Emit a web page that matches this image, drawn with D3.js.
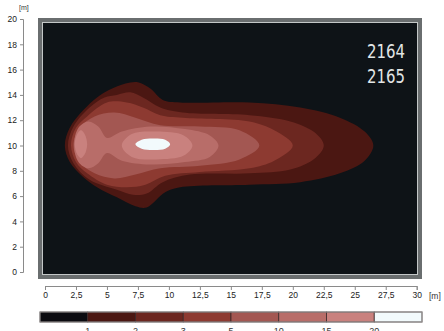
<!DOCTYPE html>
<html><head><meta charset="utf-8">
<script src="https://cdn.jsdelivr.net/npm/d3@7"></script>
<style>html,body{margin:0;padding:0;background:#fff}svg{display:block}</style>
</head><body>
<script>
// ---- data (metres) ----
const levels = [1, 2, 3, 5, 10, 15, 20];
const levelColors = ["#0b0b10", "#4b1712", "#6c2720", "#8d3a31", "#a35752", "#b86d69", "#c9817e", "#f2fafc"];
const xTicks = [0, 2.5, 5, 7.5, 10, 12.5, 15, 17.5, 20, 22.5, 25, 27.5, 30];
const yTicks = [0, 2, 4, 6, 8, 10, 12, 14, 16, 18, 20];
const yearLabels = ["2164", "2165"];

const contour1 = [[1.6,10.0],[2.0,11.4],[3.1,12.8],[4.2,13.8],[5.2,14.4],[6.5,14.9],[7.5,15.0],[8.5,14.5],[9.5,13.6],[10.9,13.4],[16.5,13.4],[20.6,13.0],[23.8,12.2],[25.8,11.1],[26.5,10.0],[25.8,8.8],[23.8,7.8],[20.6,7.1],[16.5,6.9],[10.9,6.7],[9.7,6.3],[8.2,5.1],[7.3,5.2],[5.8,5.9],[4.2,6.7],[3.1,7.5],[2.0,8.7]];
const contour2 = [[1.85,10.0],[2.3,11.5],[3.6,13.0],[4.8,13.8],[5.8,14.0],[6.9,14.2],[7.9,13.8],[9.3,13.0],[11.1,12.6],[16.5,12.4],[19.8,11.9],[21.8,11.0],[22.5,10.0],[21.8,9.0],[19.8,8.1],[16.5,7.8],[11.7,7.7],[9.5,7.1],[8.2,6.2],[7.1,6.1],[5.8,6.5],[3.6,7.3],[2.3,8.6]];
const contour3 = [[2.1,10.0],[2.5,11.4],[3.4,12.3],[5.0,13.4],[6.6,13.4],[7.9,13.0],[9.3,12.4],[11.1,12.2],[16.5,11.9],[18.5,11.2],[20.0,10.0],[18.5,8.8],[16.5,8.2],[12.5,7.9],[9.7,7.6],[8.1,6.9],[6.6,6.7],[5.0,6.9],[3.4,7.8],[2.5,8.7]];
const contour5 = [[2.3,10.0],[2.8,11.4],[4.0,12.3],[5.6,12.6],[7.3,12.2],[9.3,11.6],[12.5,11.5],[15.7,11.2],[17.3,10.0],[15.7,8.9],[12.5,8.4],[9.3,8.2],[7.3,7.7],[5.6,7.4],[4.0,7.8],[2.8,8.7]];
const contour10 = [[2.35,10.0],[2.7,11.4],[3.5,11.9],[4.3,11.5],[5.0,10.6],[6.2,11.1],[8.5,11.5],[11.3,11.3],[13.3,10.8],[14.0,10.0],[13.3,9.1],[11.3,8.7],[8.5,8.5],[6.2,8.8],[5.0,9.4],[4.3,8.6],[3.5,8.2],[2.7,8.7]];
const contour15a = [[2.4,10.1],[2.6,10.9],[2.9,11.2],[3.2,10.9],[3.4,10.1],[3.2,9.3],[2.9,9.0],[2.6,9.3]];
const contour15b = [[6.2,10.0],[7.0,10.9],[9.0,11.1],[11.2,10.8],[11.9,10.0],[11.2,9.2],[9.0,8.9],[7.0,9.1]];
const contour20 = [[7.3,10.1],[7.8,10.45],[8.7,10.55],[9.7,10.45],[10.1,10.1],[9.7,9.75],[8.7,9.65],[7.8,9.75]];
const contourShapes = [
  {level: 1, pts: contour1}, {level: 2, pts: contour2}, {level: 3, pts: contour3},
  {level: 5, pts: contour5}, {level: 10, pts: contour10},
  {level: 15, pts: contour15a}, {level: 15, pts: contour15b}, {level: 20, pts: contour20}
];

// ---- drawing ----
const W = 444, H = 331;
const svg = d3.select("body").append("svg").attr("width", W).attr("height", H)
  .style("font-family", "'Liberation Sans', Arial, sans-serif");

const x = d3.scaleLinear().domain([0, 30]).range([45, 416.7]);
const y = d3.scaleLinear().domain([0, 20]).range([272, 19]);
const colorOf = d3.scaleThreshold().domain(levels).range(levelColors);

// frame
svg.append("rect").attr("x", 38).attr("y", 18).attr("width", 384).attr("height", 261).attr("fill", "#6a6e6f");
svg.append("rect").attr("x", 42).attr("y", 22).attr("width", 376).attr("height", 253).attr("fill", "#c4c8c8");
svg.append("rect").attr("x", 43).attr("y", 23).attr("width", 374).attr("height", 251).attr("fill", "#0e1317");

svg.append("clipPath").attr("id", "clip").append("rect")
  .attr("x", 43).attr("y", 23).attr("width", 374).attr("height", 251);

const line = d3.line().x(d => x(d[0])).y(d => y(d[1])).curve(d3.curveCatmullRomClosed.alpha(0.5));
svg.append("g").attr("clip-path", "url(#clip)").selectAll("path").data(contourShapes).join("path")
  .attr("d", d => line(d.pts)).attr("fill", d => colorOf(d.level));

// year labels
svg.append("g").selectAll("text").data(yearLabels).join("text")
  .attr("x", 367).attr("y", (d, i) => 58 + i * 25)
  .attr("fill", "#e2e6e6").style("font-family", "'DejaVu Sans Condensed', 'Liberation Sans Narrow', sans-serif")
  .style("font-weight", "300").style("font-size", "20px")
  .attr("textLength", 38).attr("lengthAdjust", "spacingAndGlyphs").text(d => d);

// axes
const yAxis = svg.append("g").attr("transform", "translate(23,0)")
  .call(d3.axisLeft(y).tickValues(yTicks).tickSize(3).tickSizeOuter(3).tickPadding(3).tickFormat(d3.format("d")));
const xAxis = svg.append("g").attr("transform", "translate(0,286)")
  .call(d3.axisBottom(x).tickValues(xTicks).tickSize(4).tickSizeOuter(4).tickPadding(2).tickFormat(d => String(d).replace(".", ",")));
[yAxis, xAxis].forEach(g => {
  g.selectAll("path,line").attr("stroke", "#8a8a8a");
  g.selectAll("text").attr("fill", "#222").style("font-size", "8.5px");
});
svg.append("text").attr("x", 19).attr("y", 10).attr("fill", "#333").style("font-size", "7px").text("[m]");
svg.append("text").attr("x", 429).attr("y", 299).attr("fill", "#333").style("font-size", "8.5px").text("[m]");

// legend
const lx = d3.scaleBand().domain(d3.range(levelColors.length)).range([40, 422]);
const lg = svg.append("g");
lg.selectAll("rect").data(levelColors).join("rect")
  .attr("x", (d, i) => lx(i)).attr("y", 312).attr("width", lx.bandwidth()).attr("height", 10)
  .attr("fill", d => d).attr("stroke", "#3a2a2a").attr("stroke-width", 0.8);
lg.append("rect").attr("x", 40).attr("y", 312).attr("width", 382).attr("height", 10)
  .attr("fill", "none").attr("stroke", "#999").attr("stroke-width", 1);
lg.selectAll("text").data(levels).join("text")
  .attr("x", (d, i) => lx(i + 1)).attr("y", 334).attr("text-anchor", "middle")
  .attr("fill", "#333").style("font-size", "9px").text(d => d);
</script>
</body></html>
